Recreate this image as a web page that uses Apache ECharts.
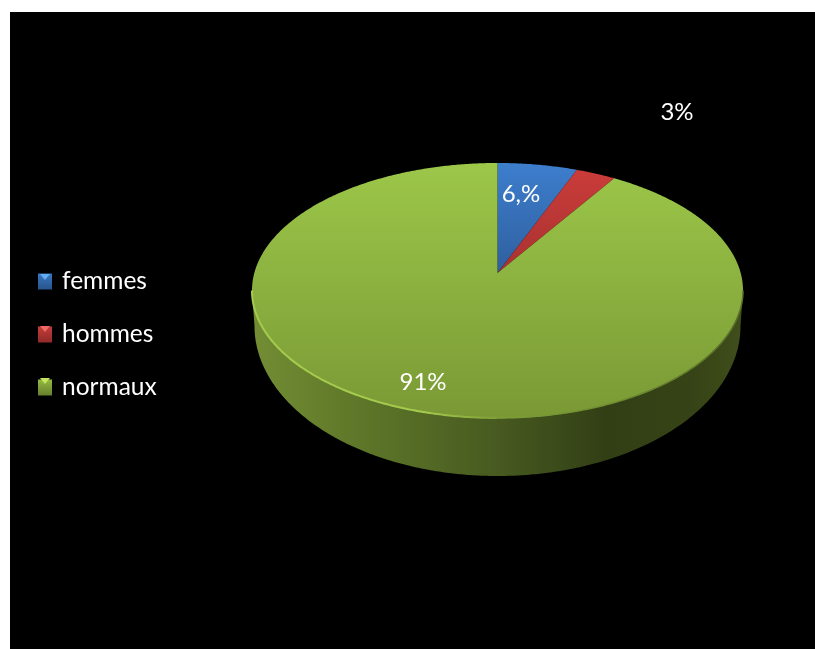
<!DOCTYPE html>
<html>
<head>
<meta charset="utf-8">
<style>
html,body{margin:0;padding:0;background:#fff;}
#chart{width:815px;height:649px;}
</style>
<script src="https://cdn.jsdelivr.net/npm/echarts@6/dist/echarts.min.js"></script>
</head>
<body>
<div id="chart"></div>
<script>
// Slice data, in drawing order clockwise from twelve o'clock
var categories = ['femmes', 'hommes', 'normaux'];
var shares = [6, 3, 91];
var shareLabels = ['6,%', '3%', '91%'];

// Presentation
var topColors = [['#3d7ecd', '#2f5f9e'], ['#ca3c3a', '#a83230'], ['#9cc749', '#7a9935']];
var iconColors = [['#3a77c0', '#27548c'], ['#c53c3a', '#8f2a28'], ['#93b944', '#66802c']];
var iconGlints = ['#62aef0', '#ee6a66', '#c4e45e'];
var labelCentres = [[521, 194], [677, 112], [423, 382]];
var FONT = 'Lato, "Open Sans", sans-serif';

// Perspective disc: the centre of the circle projects above the middle of the ellipse
var disc = { cx: 497.5, cy: 273, a: 243.2, b: 125.1, k: 0.137 };
var base = { cx: 497.5, cy: 326, rx: 243, ry: 150 };
var LG = echarts.graphic.LinearGradient;

// Angle is measured in degrees clockwise from the top of the disc
function rim(deg) {
  var t = deg * Math.PI / 180;
  var X = Math.sin(t), Y = -Math.cos(t);
  var w = 1 - disc.k * Y;
  return [disc.cx + disc.a * X / w, disc.cy + disc.b * Y / w];
}
function rimRun(from, to) {
  var pts = [], n = Math.max(2, Math.ceil(Math.abs(to - from) * 2));
  for (var i = 0; i <= n; i++) pts.push(rim(from + (to - from) * i / n));
  return pts;
}
// Angle on the disc where the outline is widest (left and right extremes)
var sideTilt = Math.asin(disc.k) * 180 / Math.PI;

// Outer wall: near rim from right to left, then the lower edge from left to right
function sidePoints() {
  var pts = rimRun(90 + sideTilt, 270 - sideTilt);
  for (var d = 0; d <= 180; d += 0.5) {
    var t = d * Math.PI / 180;
    pts.push([base.cx - base.rx * Math.cos(t), base.cy + base.ry * Math.sin(t)]);
  }
  return pts;
}

var total = shares.reduce(function (s, v) { return s + v; }, 0);
var starts = [];
shares.reduce(function (s, v, i) { starts[i] = s; return s + v; }, 0);

function renderSlice(params, api) {
  var i = params.seriesIndex;
  var from = starts[i] / total * 360;
  var to = from + api.value(0) / total * 360;
  var children = [];
  var isFront = from <= 90 && to >= 270;
  if (isFront) {
    children.push({
      type: 'polygon', z2: 1,
      shape: { points: sidePoints() },
      style: {
        fill: new LG(255, 0, 741, 0, [
          { offset: 0, color: '#728d34' },
          { offset: 0.2, color: '#5f7829' },
          { offset: 0.5, color: '#475a20' },
          { offset: 0.72, color: '#323f15' },
          { offset: 0.9, color: '#364316' },
          { offset: 1, color: '#3f4e1b' }
        ], true)
      }
    });
  }
  children.push({
    type: 'polygon', z2: 2,
    shape: { points: [[disc.cx, disc.cy]].concat(rimRun(from, to)) },
    style: {
      fill: new LG(0, 0, 0, 1, [
        { offset: 0, color: topColors[i][0] },
        { offset: 1, color: topColors[i][1] }
      ])
    }
  });
  if (isFront) {
    // Bevel along the near edge of the disc
    children.push({
      type: 'polyline', z2: 3,
      shape: { points: rimRun(90 + sideTilt, 180) },
      style: {
        fill: null, lineWidth: 1.5,
        stroke: new LG(738, 0, 497, 0, [
          { offset: 0, color: '#58702a' },
          { offset: 0.5, color: '#6f8c30' },
          { offset: 1, color: '#7f9f38' }
        ], true)
      }
    });
    children.push({
      type: 'polyline', z2: 3,
      shape: { points: rimRun(180, 270 - sideTilt) },
      style: {
        fill: null, lineWidth: 2,
        stroke: new LG(497, 0, 252, 0, [
          { offset: 0, color: '#7f9f38' },
          { offset: 0.3, color: '#a4ca4e' },
          { offset: 1, color: '#a4ca4e' }
        ], true)
      }
    });
  }
  children.push({
    type: 'text', z2: 5,
    style: {
      x: labelCentres[i][0], y: labelCentres[i][1],
      text: shareLabels[i], fill: '#fff', font: '24px ' + FONT,
      align: 'center', verticalAlign: 'middle'
    }
  });
  return { type: 'group', children: children };
}

var series = categories.map(function (name, i) {
  return {
    name: name,
    type: 'custom',
    coordinateSystem: 'none',
    silent: true,
    itemStyle: { color: iconColors[i][0] },
    data: [[shares[i]]],
    renderItem: renderSlice
  };
});

var legendData = categories.map(function (name, i) {
  return {
    name: name,
    itemStyle: {
      color: new LG(0, 0, 0, 1, [
        { offset: 0, color: iconColors[i][0] },
        { offset: 1, color: iconColors[i][1] }
      ])
    }
  };
});

// Backdrop and the small highlights on the legend swatches
var graphics = [{
  type: 'rect', z: -10, silent: true,
  shape: { x: 10, y: 12, width: 805, height: 637 },
  style: { fill: '#000' }
}];
categories.forEach(function (name, i) {
  var top = 274 + i * 52;
  graphics.push({
    type: 'polygon', z: 100, silent: true,
    shape: { points: [[40, top], [50, top], [45, top + 6]] },
    style: { fill: iconGlints[i] }
  });
});

var chart = echarts.init(document.getElementById('chart'), null, { renderer: 'canvas' });
chart.setOption({
  backgroundColor: '#fff',
  animation: false,
  legend: {
    orient: 'vertical',
    left: 38,
    top: 269,
    padding: 0,
    itemWidth: 14,
    itemHeight: 16,
    itemGap: 28,
    icon: 'rect',
    selectedMode: false,
    data: legendData,
    textStyle: { color: '#fff', fontFamily: FONT, fontSize: 24.5, padding: [0, 0, 0, 5] }
  },
  graphic: graphics,
  series: series
});
</script>
</body>
</html>
